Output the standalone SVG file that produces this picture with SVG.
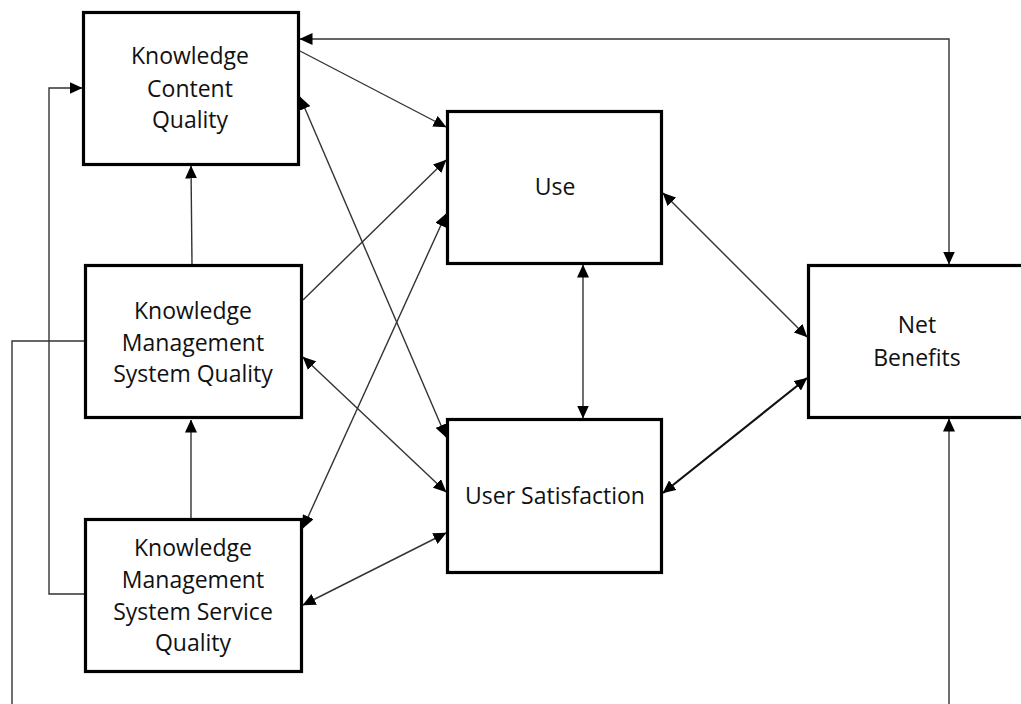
<svg xmlns="http://www.w3.org/2000/svg" width="1021" height="704" viewBox="0 0 1021 704">
<style>
.box{fill:#fff;stroke:#000;stroke-width:3.2}
.lbl{font-family:"Open Sans","Noto Sans",sans-serif;font-size:23px;fill:#111;text-anchor:middle}
.c{fill:none;stroke:#333;stroke-width:1.4}
.c2{fill:none;stroke:#111;stroke-width:2.2}
</style>
<defs>
<marker id="ah" viewBox="0 0 13 12" refX="12.5" refY="6" markerWidth="13" markerHeight="12" markerUnits="userSpaceOnUse" orient="auto-start-reverse">
<path d="M0,0 L13,6 L0,12 z" fill="#000"/>
</marker>
</defs>
<rect width="1021" height="704" fill="#fff"/>
<g id="kcq">
<rect class="box" x="83.5" y="12.5" width="215" height="152"/>
<text class="lbl" x="190" y="64">Knowledge</text>
<text class="lbl" x="190" y="97">Content</text>
<text class="lbl" x="190" y="128">Quality</text>
</g>
<g id="kmsq">
<rect class="box" x="85.5" y="265.5" width="216" height="152"/>
<text class="lbl" x="193" y="319">Knowledge</text>
<text class="lbl" x="193" y="351">Management</text>
<text class="lbl" x="193" y="382">System Quality</text>
</g>
<g id="kmssq">
<rect class="box" x="85.5" y="519.5" width="216" height="152"/>
<text class="lbl" x="193" y="556">Knowledge</text>
<text class="lbl" x="193" y="588">Management</text>
<text class="lbl" x="193" y="620">System Service</text>
<text class="lbl" x="193" y="651">Quality</text>
</g>
<g id="use">
<rect class="box" x="447.5" y="111.5" width="214" height="152"/>
<text class="lbl" x="555" y="195">Use</text>
</g>
<g id="us">
<rect class="box" x="447.5" y="419.5" width="214" height="153"/>
<text class="lbl" x="555" y="504">User Satisfaction</text>
</g>
<g id="nb">
<rect class="box" x="808.5" y="265.5" width="220" height="152"/>
<text class="lbl" x="917" y="333">Net</text>
<text class="lbl" x="917" y="366">Benefits</text>
</g>
<g id="connectors">
<polyline class="c" points="300,39 949,39 949,264" marker-start="url(#ah)" marker-end="url(#ah)"/>
<line class="c" x1="949" y1="704" x2="949" y2="419" marker-end="url(#ah)"/>
<polyline class="c" points="84,341 12,341 12,704"/>
<polyline class="c" points="84,594 49,594 49,88 82,88" marker-end="url(#ah)"/>
<line class="c" x1="192" y1="264" x2="191" y2="166" marker-end="url(#ah)"/>
<line class="c" x1="191" y1="518" x2="191" y2="420" marker-end="url(#ah)"/>
<line class="c" x1="583" y1="265" x2="583" y2="418" marker-start="url(#ah)" marker-end="url(#ah)"/>
<line class="c" x1="663" y1="193" x2="807" y2="337" marker-start="url(#ah)" marker-end="url(#ah)"/>
<line class="c2" x1="663" y1="493" x2="807" y2="378" marker-start="url(#ah)" marker-end="url(#ah)"/>
<line class="c" x1="300" y1="51" x2="446" y2="127" marker-end="url(#ah)"/>
<line class="c" x1="303" y1="300" x2="446" y2="160" marker-end="url(#ah)"/>
<line class="c" x1="303" y1="528" x2="446" y2="214" marker-start="url(#ah)" marker-end="url(#ah)"/>
<line class="c" x1="300" y1="97" x2="446" y2="437" marker-start="url(#ah)" marker-end="url(#ah)"/>
<line class="c" x1="303" y1="357" x2="446" y2="492" marker-start="url(#ah)" marker-end="url(#ah)"/>
<line class="c" x1="303" y1="605" x2="446" y2="533" marker-start="url(#ah)" marker-end="url(#ah)"/>
</g>
</svg>
